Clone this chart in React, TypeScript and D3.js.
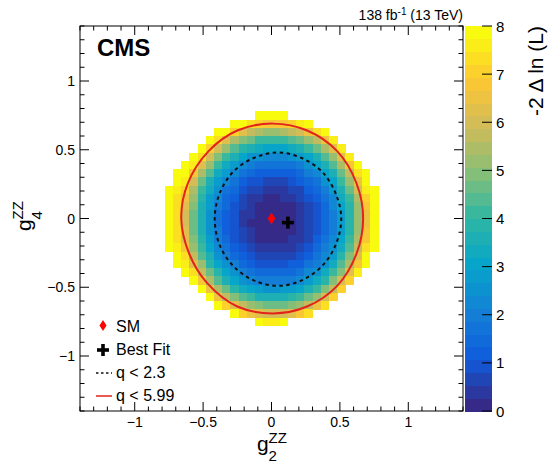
import React from 'react';
import * as d3 from 'd3';

// likelihood scan, g2^ZZ vs g4^ZZ

// bin centres of the scan (g2 left -> right, g4 top -> bottom), bin width 0.06
const g2Bins = [-0.75, -0.69, -0.63, -0.57, -0.51, -0.45, -0.39, -0.33, -0.27, -0.21, -0.15, -0.09, -0.03,
  0.03, 0.09, 0.15, 0.21, 0.27, 0.33, 0.39, 0.45, 0.51, 0.57, 0.63, 0.69, 0.75];
const g4Bins = [0.75, 0.69, 0.63, 0.57, 0.51, 0.45, 0.39, 0.33, 0.27, 0.21, 0.15, 0.09, 0.03,
  -0.03, -0.09, -0.15, -0.21, -0.27, -0.33, -0.39, -0.45, -0.51, -0.57, -0.63, -0.69, -0.75];
const binWidth = 0.06;

// -2 Delta ln L per bin, read off the colour: one char per bin, 0-9 then a-t = level 0..29
// (each level is 8/30 wide), '.' = bin not filled
const levelCodes = '0123456789abcdefghijklmnopqrst';
const nllRows = [
  '...........tttt...........',
  '........ttrqpppqst........',
  '......ttqnlkjjklmort......',
  '.....trnkihffffghjlos.....',
  '....tqmjgedcbbbcdfhkns....',
  '...trmifdb998889abdgjns...',
  '..tsnjfca876666679bdgkpt..',
  '.ttpkgca86544444578bdhlrt.',
  '.tsmhda8643322234569bfjot.',
  'tsqkfc96532211122457adhmst',
  'trojea854211001123468cfkqt',
  'trnida753210000012358bejpt',
  'trmhd9643110000012357aejot',
  'trmhd9643100000012357aejot',
  'trnhd9743210000012357aejpt',
  'trniea753210000112468bfkpt',
  'tspjfb864321111123579cglrt',
  '.trlgd97543222223468aeint.',
  '.tsnjeb9754333344679cgkpt.',
  '..trlheb97655555689cfins..',
  '...tpkgdb98777778aceimq...',
  '....tokhecba99aabdfilq....',
  '.....toligfddddefhjmq.....',
  '......tqnljihhhijlor......',
  '........tqonmmmnpr........',
  '...........tsst...........',
];

// contours (g2, g4)
const contour68 = [[0.51, 0.0], [0.47, 0.18], [0.37, 0.34], [0.22, 0.44], [0.05, 0.48], [-0.13, 0.44],
  [-0.28, 0.34], [-0.38, 0.18], [-0.415, 0.0], [-0.38, -0.19], [-0.28, -0.345], [-0.13, -0.45],
  [0.05, -0.49], [0.22, -0.45], [0.37, -0.345], [0.47, -0.19]];
const contour95 = [[0.67, 0.0], [0.62, 0.26], [0.48, 0.49], [0.26, 0.64], [0.01, 0.69], [-0.25, 0.64],
  [-0.46, 0.49], [-0.61, 0.26], [-0.66, 0.0], [-0.6, -0.26], [-0.47, -0.47], [-0.25, -0.64],
  [0.01, -0.69], [0.26, -0.64], [0.48, -0.49], [0.62, -0.26]];
const smPoint = [0, 0];
const bestFit = [0.12, -0.03];

const axisTicks = [-1, -0.5, 0, 0.5, 1];
const axisTickLabels = ['\u22121', '\u22120.5', '0', '0.5', '1'];
const zTicks = [0, 1, 2, 3, 4, 5, 6, 7, 8];
const zMax = 8;
const nLevels = 30;

const legendLabels = ['SM', 'Best Fit', 'q < 2.3', 'q < 5.99'];

// ROOT kBird palette
const birdStops = [0, 0.125, 0.25, 0.375, 0.5, 0.625, 0.75, 0.875, 1];
const birdColors = ['#352a87', '#0f5cdd', '#1481d6', '#06a4ca', '#2eb7a4', '#87bf77', '#d1bb59', '#fec832', '#f9fb0e'];

const FONT = "'Liberation Sans', Arial, Helvetica, sans-serif";
const RED = '#e3231b';

export default function App() {
  const W = 548, H = 463;
  const left = 80, right = 463, top = 26, bottom = 411;
  const x = d3.scaleLinear().domain([-1.4, 1.4]).range([left, right]);
  const y = d3.scaleLinear().domain([-1.4, 1.4]).range([bottom, top]);
  const z = d3.scaleLinear().domain([0, zMax]).range([bottom, top]);
  const palette = d3.scaleLinear<string>().domain(birdStops).range(birdColors).interpolate(d3.interpolateRgb);
  const levelColor = (b: number) => palette(b / (nLevels - 1));
  const step = zMax / nLevels;

  const cells: { x0: number; x1: number; y0: number; y1: number; v: number }[] = [];
  nllRows.forEach((row, j) => {
    row.split('').forEach((ch, i) => {
      const k = levelCodes.indexOf(ch);
      if (k < 0) return;
      cells.push({
        x0: g2Bins[i] - binWidth / 2, x1: g2Bins[i] + binWidth / 2,
        y0: g4Bins[j] + binWidth / 2, y1: g4Bins[j] - binWidth / 2,
        v: (k + 0.5) * step,
      });
    });
  });

  const line = d3.line<number[]>().x(d => x(d[0])).y(d => y(d[1])).curve(d3.curveCatmullRomClosed);
  const minor = d3.range(-14, 15).filter(k => k % 5 !== 0).map(k => k / 10);

  const barX0 = 465, barX1 = 492;
  const bands = d3.range(nLevels);

  const legX = 103, legTextX = 116;
  const legY = [332, 355, 378, 401];

  return (
    <svg width={W} height={H} style={{ position: 'absolute', left: 0, top: 0, background: '#fff' }}
      fontFamily={FONT}>
      <rect width={W} height={H} fill="#fff" />

      {/* heat map */}
      <g shapeRendering="crispEdges">
        {cells.map((c, i) => (
          <rect key={i} x={x(c.x0)} y={y(c.y0)} width={x(c.x1) - x(c.x0) + 0.4} height={y(c.y1) - y(c.y0) + 0.4}
            fill={levelColor(Math.min(nLevels - 1, Math.floor(c.v / step)))} />
        ))}
      </g>

      {/* contours */}
      <path d={line(contour95) || ''} fill="none" stroke={RED} strokeWidth={2} />
      <path d={line(contour68) || ''} fill="none" stroke="#111" strokeWidth={2} strokeDasharray="3.5 3.5" />

      {/* SM and best fit */}
      <path d={`M${x(smPoint[0])},${y(smPoint[1]) - 6}l3.8,6l-3.8,6l-3.8,-6z`} fill="#f00" />
      <g stroke="#000" strokeWidth={3.6}>
        <line x1={x(bestFit[0]) - 6} x2={x(bestFit[0]) + 6} y1={y(bestFit[1])} y2={y(bestFit[1])} />
        <line x1={x(bestFit[0])} x2={x(bestFit[0])} y1={y(bestFit[1]) - 6} y2={y(bestFit[1]) + 6} />
      </g>

      {/* frame and ticks */}
      <rect x={left} y={top} width={right - left} height={bottom - top} fill="none" stroke="#000" strokeWidth={1} />
      <g stroke="#000" strokeWidth={1}>
        {axisTicks.map(t => (
          <g key={'M' + t}>
            <line x1={x(t)} x2={x(t)} y1={bottom} y2={bottom - 9} />
            <line x1={x(t)} x2={x(t)} y1={top} y2={top + 9} />
            <line x1={left} x2={left + 9} y1={y(t)} y2={y(t)} />
            <line x1={right} x2={right - 9} y1={y(t)} y2={y(t)} />
          </g>
        ))}
        {minor.map(t => (
          <g key={'m' + t}>
            <line x1={x(t)} x2={x(t)} y1={bottom} y2={bottom - 4.5} />
            <line x1={x(t)} x2={x(t)} y1={top} y2={top + 4.5} />
            <line x1={left} x2={left + 4.5} y1={y(t)} y2={y(t)} />
            <line x1={right} x2={right - 4.5} y1={y(t)} y2={y(t)} />
          </g>
        ))}
      </g>
      <g fontSize={14} fill="#000">
        {axisTicks.map((t, i) => (
          <text key={'x' + t} x={x(t)} y={427} textAnchor="middle">{axisTickLabels[i]}</text>
        ))}
        {axisTicks.map((t, i) => (
          <text key={'y' + t} x={75} y={y(t) + 5} textAnchor="end">{axisTickLabels[i]}</text>
        ))}
      </g>

      {/* axis titles */}
      <text x={257} y={451} fontSize={21}>g</text>
      <text x={268.5} y={443} fontSize={15}>ZZ</text>
      <text x={268.5} y={461} fontSize={15}>2</text>
      <g transform="translate(31,218) rotate(-90)">
        <text x={-13} y={0} fontSize={21}>g</text>
        <text x={-1.5} y={-8} fontSize={15}>ZZ</text>
        <text x={-1.5} y={11} fontSize={15}>4</text>
      </g>

      {/* colour bar */}
      <g shapeRendering="crispEdges">
        {bands.map(b => (
          <rect key={b} x={barX0} width={barX1 - barX0} y={z((b + 1) * step)}
            height={z(b * step) - z((b + 1) * step) + 0.5} fill={levelColor(b)} />
        ))}
      </g>
      <g stroke="#000" strokeWidth={1}>
        {zTicks.map(t => (
          <line key={t} x1={barX1} x2={barX1 - 10} y1={z(t)} y2={z(t)} />
        ))}
      </g>
      <g fontSize={15}>
        {zTicks.map(t => (
          <text key={t} x={496} y={z(t) + 5.5}>{t}</text>
        ))}
      </g>
      <text transform="translate(543,26) rotate(-90)" textAnchor="end" fontSize={21}>-2 {'\u0394'} ln (L)</text>

      {/* labels */}
      <text x={97} y={56} fontSize={24} fontWeight="bold">CMS</text>
      <text x={463} y={20} fontSize={14} textAnchor="end">
        138 fb<tspan dy={-5} fontSize={10}>-1</tspan><tspan dy={5}> (13 TeV)</tspan>
      </text>

      {/* legend */}
      <path d={`M${legX},${legY[0] - 12}l3.5,5.5l-3.5,5.5l-3.5,-5.5z`} fill="#f00" />
      <g stroke="#000" strokeWidth={3.6}>
        <line x1={legX - 6} x2={legX + 6} y1={legY[1] - 5} y2={legY[1] - 5} />
        <line x1={legX} x2={legX} y1={legY[1] - 11} y2={legY[1] + 1} />
      </g>
      <line x1={96} x2={112} y1={legY[2] - 5} y2={legY[2] - 5} stroke="#111" strokeWidth={1.5} strokeDasharray="2.5 2.5" />
      <line x1={96} x2={112} y1={legY[3] - 5} y2={legY[3] - 5} stroke={RED} strokeWidth={1.5} />
      <g fontSize={16}>
        {legendLabels.map((l, i) => (
          <text key={l} x={legTextX} y={legY[i]}>{l}</text>
        ))}
      </g>
    </svg>
  );
}
